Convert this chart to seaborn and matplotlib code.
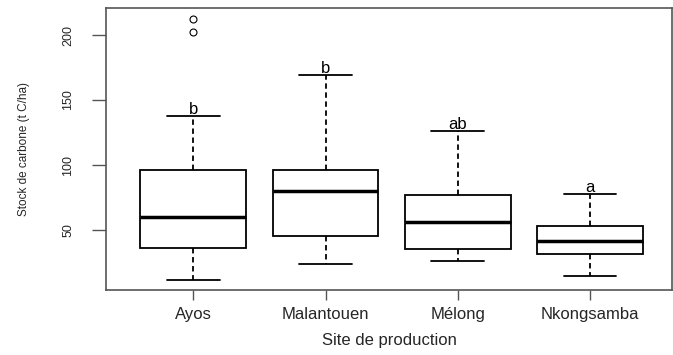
import numpy as np
import pandas as pd
import matplotlib
matplotlib.use("Agg")
import matplotlib.pyplot as plt
import seaborn as sns

# values (t C/ha)
sites = ["Ayos", "Malantouen", "Mélong", "Nkongsamba"]
lower_whisker = [11.5, 24.1, 26.4, 14.8]
q1 = [35.9, 45.4, 35.4, 31.5]
median = [59.8, 80.2, 55.9, 41.8]
q3 = [96.2, 96.4, 77.2, 52.8]
upper_whisker = [137.5, 169.0, 126.0, 77.9]
outliers = [[202.0, 212.3], [], [], []]
letters = ["b", "b", "ab", "a"]

# build a sample per site whose box statistics are exactly the values above
rows = []
for i, site in enumerate(sites):
    m = len(outliers[i]) + 1
    vals = ([lower_whisker[i]] + [q1[i]] * m + [median[i]] * m + [q3[i]] * m
            + [upper_whisker[i]] + outliers[i])
    rows += [(site, v) for v in vals]
df = pd.DataFrame(rows, columns=["site", "stock"])

sns.set_style("white")
plt.rcParams["font.family"] = ["Liberation Sans", "DejaVu Sans"]

fig = plt.figure(figsize=(6.73, 3.55), dpi=100)
ax = fig.add_axes([106 / 673, 1 - 290 / 355, 566 / 673, 282 / 355])

sns.boxplot(data=df, x="site", y="stock", order=sites, ax=ax,
            color="white", linecolor="black", linewidth=1.3, width=0.8,
            whis=1.5, fliersize=5,
            whiskerprops=dict(linestyle=(0, (3, 2))),
            medianprops=dict(linewidth=2.5),
            flierprops=dict(marker="o", markerfacecolor="none",
                            markeredgecolor="black", markeredgewidth=0.8))

for i, lab in enumerate(letters):
    ax.text(i, upper_whisker[i] + 1.5, lab, ha="center", va="baseline",
            fontsize=12, color="black")

ax.set_xlim(-0.66, 3.62)
ax.set_ylim(3.85, 220.8)
ax.set_yticks([50, 100, 150, 200])
ax.set_yticklabels(["50", "100", "150", "200"], rotation=90, va="center",
                   fontsize=9)
ax.tick_params(axis="x", labelsize=12, pad=5)
ax.tick_params(axis="both", which="both", direction="out", length=7,
               width=1, color="#555555", left=True, bottom=True)
ax.tick_params(axis="y", length=10, pad=13)
ax.set_xlabel("Site de production", fontsize=12, labelpad=8)
ax.set_ylabel("Stock de carbone (t C/ha)", fontsize=8.5, labelpad=23)
for s in ax.spines.values():
    s.set_visible(True)
    s.set_color("#555555")
    s.set_linewidth(1.2)

fig.savefig("out.png", dpi=100)
